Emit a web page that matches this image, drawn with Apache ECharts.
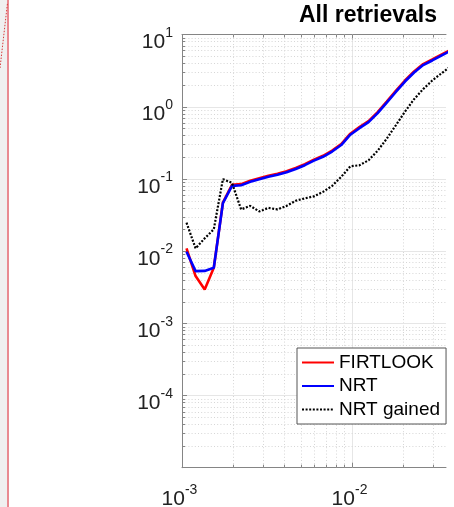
<!DOCTYPE html>
<html>
<head>
<meta charset="utf-8">
<script src="https://cdn.jsdelivr.net/npm/echarts@6/dist/echarts.min.js"></script>
<style>
  html, body { margin: 0; padding: 0; background: #fff; }
  #chart { width: 454px; height: 507px; }
</style>
</head>
<body>
<div id="chart"></div>
<script>
// Frequency bins (log spaced) and the three spectra
const freq = [1.063e-3, 1.202e-3, 1.360e-3, 1.538e-3, 1.740e-3, 1.968e-3, 2.227e-3, 2.519e-3,
  2.849e-3, 3.223e-3, 3.646e-3, 4.124e-3, 4.665e-3, 5.277e-3, 5.970e-3, 6.753e-3, 7.639e-3,
  8.641e-3, 9.772e-3, 1.105e-2, 1.251e-2, 1.415e-2, 1.600e-2, 1.810e-2, 2.048e-2, 2.317e-2,
  2.620e-2, 2.964e-2, 3.353e-2, 3.793e-2];

const firtlook = [0.0109, 0.0045, 0.00294, 0.00586, 0.0469, 0.0825, 0.0844, 0.0938, 0.1016,
  0.1101, 0.1173, 0.1271, 0.1413, 0.1595, 0.1842, 0.2087, 0.2464, 0.3033, 0.4217, 0.5192,
  0.6288, 0.8386, 1.173, 1.647, 2.297, 3.063, 3.880, 4.496, 5.258, 6.111];

const nrt = [0.00978, 0.00528, 0.00531, 0.00586, 0.0460, 0.0799, 0.0817, 0.0908, 0.0984,
  0.1066, 0.1136, 0.1231, 0.1368, 0.1545, 0.1784, 0.2021, 0.2386, 0.2937, 0.4084, 0.5028,
  0.6090, 0.8122, 1.136, 1.595, 2.225, 2.967, 3.758, 4.354, 5.092, 5.918];

const nrtGained = [0.0247, 0.0109, 0.0150, 0.0200, 0.0990, 0.0880, 0.0377, 0.0422, 0.0354,
  0.0396, 0.0377, 0.0422, 0.0498, 0.0536, 0.0571, 0.0660, 0.0799, 0.1066, 0.1492, 0.1540,
  0.1806, 0.2448, 0.3594, 0.5517, 0.8522, 1.267, 1.744, 2.297, 2.882, 3.594];

const seriesNames = ['FIRTLOOK', 'NRT', 'NRT gained'];
const titleText = 'All retrievals';

// Axis ranges and grid line positions
const xMin = 1e-3, xMax = 0.03571;
const yMin = 1e-5, yMax = 10;
const xMajor = [1e-2];
const xMinor = [2e-3, 3e-3, 4e-3, 5e-3, 6e-3, 7e-3, 8e-3, 9e-3, 2e-2, 3e-2];
const yMajor = [1e-4, 1e-3, 1e-2, 1e-1, 1];
const yDecades = [-5, -4, -3, -2, -1, 0];
const yLabelExps = [-4, -3, -2, -1, 0, 1];

const yMinor = [];
yDecades.forEach(function (e) {
  for (let m = 2; m <= 9; m++) yMinor.push(m * Math.pow(10, e));
});

const gridData = [];
xMajor.forEach(function (v) { gridData.push([v, 1, 0]); });
xMinor.forEach(function (v) { gridData.push([v, 1, 1]); });
yMajor.forEach(function (v) { gridData.push([0.01, v, 2]); });
yMinor.forEach(function (v) { gridData.push([0.01, v, 3]); });

const FONT = 'Liberation Sans, Helvetica, Arial, sans-serif';
const AXIS_COLOR = '#858585';

function powerLabel(v, allowed) {
  const lg = Math.log10(v);
  const e = Math.round(lg);
  if (Math.abs(lg - e) > 1e-6) return '';
  if (allowed && allowed.indexOf(e) < 0) return '';
  return '{b|10}{s|' + e + '}';
}

const richStyle = {
  b: { fontSize: 21, fontFamily: FONT, color: '#222', lineHeight: 27, verticalAlign: 'bottom' },
  s: { fontSize: 14, fontFamily: FONT, color: '#222', lineHeight: 14, verticalAlign: 'top' }
};

function renderGrid(params, api) {
  const cs = params.coordSys;
  const kind = api.value(2);
  const pt = api.coord([api.value(0), api.value(1)]);
  const major = (kind === 0 || kind === 2);
  const gridStyle = major
    ? { stroke: '#e6e6e6', lineWidth: 1 }
    : { stroke: '#d6d6d6', lineWidth: 1, lineDash: [1, 2.2] };
  const tickStyle = { stroke: AXIS_COLOR, lineWidth: 1 };
  const len = major ? 5 : 3;
  const left = cs.x, top = cs.y, right = cs.x + cs.width, bottom = cs.y + cs.height;
  if (kind < 2) {
    const x = Math.round(pt[0]) + 0.5;
    return { type: 'group', children: [
      { type: 'line', shape: { x1: x, y1: top, x2: x, y2: bottom }, style: gridStyle },
      { type: 'line', shape: { x1: x, y1: bottom, x2: x, y2: bottom - len }, style: tickStyle },
      { type: 'line', shape: { x1: x, y1: top, x2: x, y2: top + len }, style: tickStyle }
    ] };
  }
  const y = Math.round(pt[1]) + 0.5;
  return { type: 'group', children: [
    { type: 'line', shape: { x1: left, y1: y, x2: right, y2: y }, style: gridStyle },
    { type: 'line', shape: { x1: left, y1: y, x2: left + len, y2: y }, style: tickStyle }
  ] };
}

function pairs(ys) { return freq.map(function (f, i) { return [f, ys[i]]; }); }

const chart = echarts.init(document.getElementById('chart'), null, { renderer: 'canvas' });

chart.setOption({
  animation: false,
  backgroundColor: '#ffffff',
  title: {
    text: titleText,
    right: 17,
    top: 4,
    padding: 0,
    textStyle: { fontSize: 23, fontWeight: 'bold', fontFamily: FONT, color: '#000' }
  },
  graphic: [
    { type: 'rect', shape: { x: 0, y: 0, width: 7, height: 507 }, style: { fill: '#f0f0f0' }, silent: true },
    { type: 'line', shape: { x1: 8, y1: 0, x2: 8, y2: 507 }, style: { stroke: '#e98a91', lineWidth: 2 }, silent: true },
    { type: 'line', shape: { x1: 0, y1: 68, x2: 7.5, y2: 3 }, style: { stroke: '#d83a3a', lineWidth: 1, lineDash: [1.5, 1.5] }, silent: true }
  ],
  grid: {
    left: 182, right: 8, top: 34.4, bottom: 39.3,
    containLabel: false, outerBoundsMode: 'none'
  },
  legend: {
    data: seriesNames,
    orient: 'vertical',
    left: 297,
    top: 348,
    padding: [4, 6, 4, 4],
    itemWidth: 32,
    itemHeight: 14,
    itemGap: 2.5,
    itemTextGap: 4,
    backgroundColor: '#ffffff',
    borderColor: '#555555',
    borderWidth: 1,
    borderRadius: 0,
    itemStyle: { opacity: 0, borderWidth: 0 },
    textStyle: { fontSize: 19, fontFamily: FONT, color: '#000', lineHeight: 21 }
  },
  xAxis: [
    {
      type: 'log', logBase: 10, min: xMin, max: xMax,
      position: 'bottom',
      axisLine: { show: true, lineStyle: { color: AXIS_COLOR, width: 1 } },
      axisTick: { show: false },
      splitLine: { show: false },
      minorTick: { show: false },
      minorSplitLine: { show: false },
      axisLabel: {
        interval: 0, showMinLabel: true, showMaxLabel: true,
        margin: 15, verticalAlign: 'top', padding: [0, 5, 0, 0],
        formatter: function (v) { return powerLabel(v); },
        rich: richStyle
      }
    },
    {
      type: 'log', logBase: 10, min: xMin, max: xMax,
      position: 'top',
      axisLine: { show: true, lineStyle: { color: AXIS_COLOR, width: 1 } },
      axisTick: { show: false },
      axisLabel: { show: false },
      splitLine: { show: false }
    }
  ],
  yAxis: {
    type: 'log', logBase: 10, min: yMin, max: yMax,
    axisLine: { show: true, lineStyle: { color: AXIS_COLOR, width: 1 } },
    axisTick: { show: false },
    splitLine: { show: false },
    minorTick: { show: false },
    minorSplitLine: { show: false },
    axisLabel: {
      interval: 0, showMinLabel: true, showMaxLabel: true,
      margin: 9, verticalAlign: 'middle', align: 'right', padding: [10, 0, 0, 0],
      formatter: function (v) { return powerLabel(v, yLabelExps); },
      rich: richStyle
    }
  },
  series: [
    {
      name: 'grid', type: 'custom', silent: true, z: 1,
      encode: { x: 0, y: 1 },
      data: gridData,
      renderItem: renderGrid
    },
    {
      name: seriesNames[0], type: 'line', data: pairs(firtlook),
      symbol: 'none', z: 3, clip: true,
      lineStyle: { color: '#ff0000', width: 2.6 },
      itemStyle: { color: '#ff0000' }
    },
    {
      name: seriesNames[1], type: 'line', data: pairs(nrt),
      symbol: 'none', z: 4, clip: true,
      lineStyle: { color: '#0000ff', width: 2.6 },
      itemStyle: { color: '#0000ff' }
    },
    {
      name: seriesNames[2], type: 'line', data: pairs(nrtGained),
      symbol: 'none', z: 5, clip: true,
      lineStyle: { color: '#000000', width: 2.2, type: [2, 1.6] },
      itemStyle: { color: '#000000' }
    }
  ]
});
</script>
</body>
</html>
